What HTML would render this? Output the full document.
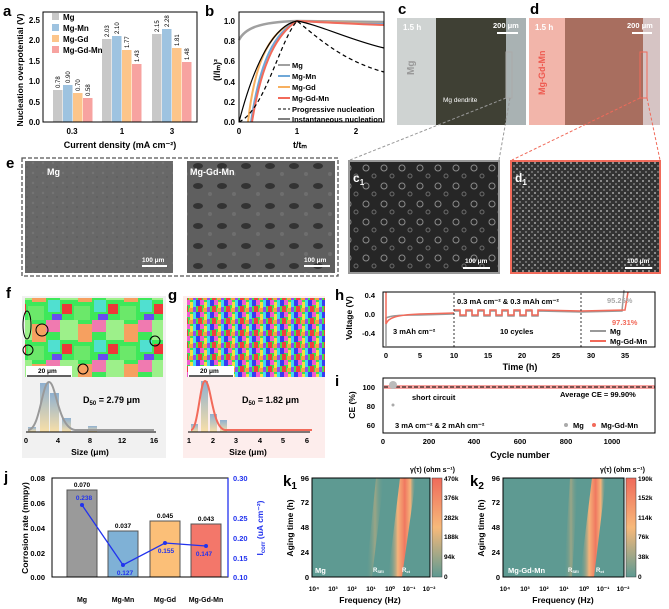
<!DOCTYPE html><html><head><meta charset="utf-8"><style>
body{margin:0;background:#fff}svg{display:block;font-family:"Liberation Sans",Arial,sans-serif}
</style></head><body>
<svg width="669" height="609" viewBox="0 0 669 609" xmlns="http://www.w3.org/2000/svg">
<defs>
<linearGradient id="hb" x1="0" y1="0" x2="0" y2="1"><stop offset="0" stop-color="#8fb0d0"/><stop offset="1" stop-color="#f8dfa8"/></linearGradient>
<linearGradient id="cb1" x1="0" y1="1" x2="0" y2="0"><stop offset="0" stop-color="#5e9a92"/><stop offset=".5" stop-color="#f7b97a"/><stop offset="1" stop-color="#ef6a5a"/></linearGradient>
<linearGradient id="ridge" x1="0" y1="0" x2="1" y2="0"><stop offset="0" stop-color="#5e9a92" stop-opacity="0"/><stop offset=".35" stop-color="#f5b37a"/><stop offset=".6" stop-color="#f07860"/><stop offset=".8" stop-color="#f5b37a"/><stop offset="1" stop-color="#5e9a92" stop-opacity="0"/></linearGradient>
<linearGradient id="sei" x1="0" y1="0" x2="1" y2="0"><stop offset="0" stop-color="#5e9a92" stop-opacity="0"/><stop offset=".5" stop-color="#9aa586"/><stop offset="1" stop-color="#5e9a92" stop-opacity="0"/></linearGradient>
<pattern id="ebsd1" width="46" height="40" patternUnits="userSpaceOnUse"><rect width="46" height="40" fill="#3ee85a"/><rect x="0" y="0" width="14" height="12" fill="#f07ab0"/><rect x="14" y="0" width="18" height="20" fill="#9df08a"/><rect x="32" y="4" width="14" height="18" fill="#f6a060"/><rect x="2" y="20" width="12" height="12" fill="#50e0d0"/><rect x="16" y="24" width="10" height="10" fill="#ee3838"/><rect x="28" y="26" width="16" height="14" fill="#6be86a"/><rect x="6" y="34" width="10" height="6" fill="#6a4cf0"/></pattern>
<pattern id="ebsd2" width="14" height="12" patternUnits="userSpaceOnUse"><rect width="14" height="12" fill="#3fe04e"/><rect x="0" y="0" width="4" height="6" fill="#3a3af0"/><rect x="4" y="0" width="4" height="5" fill="#f05ad0"/><rect x="8" y="2" width="3" height="6" fill="#f4e040"/><rect x="11" y="0" width="3" height="7" fill="#40d8f0"/><rect x="2" y="6" width="4" height="6" fill="#f04040"/><rect x="7" y="8" width="4" height="4" fill="#f6a040"/><rect x="11" y="7" width="3" height="5" fill="#8a50f0"/></pattern>
<pattern id="sem1" width="10" height="10" patternUnits="userSpaceOnUse"><rect width="10" height="10" fill="#686868"/><circle cx="3" cy="3" r="1.2" fill="#747474"/><circle cx="7" cy="7" r="1" fill="#5e5e5e"/></pattern>
<pattern id="sem2" width="24" height="20" patternUnits="userSpaceOnUse"><rect width="24" height="20" fill="#5f5f5f"/><ellipse cx="6" cy="6" rx="5" ry="3" fill="#333"/><circle cx="18" cy="14" r="2" fill="#6e6e6e"/></pattern>
<pattern id="semc" width="18" height="18" patternUnits="userSpaceOnUse"><rect width="18" height="18" fill="#262626"/><circle cx="6" cy="6" r="3" fill="none" stroke="#8a8a8a" stroke-width="1"/><circle cx="14" cy="14" r="2" fill="none" stroke="#6a6a6a"/></pattern>
<pattern id="semd" width="6" height="6" patternUnits="userSpaceOnUse"><rect width="6" height="6" fill="#333"/><rect x="0" y="0" width="2" height="2" fill="#8a8a8a"/><rect x="3" y="3" width="2" height="2" fill="#6a6a6a"/></pattern>
</defs>
<g font-weight="bold">
<!-- a -->
<text x="3" y="16" font-size="15">a</text>
<g font-size="8" text-anchor="end"><text x="40" y="125">0.0</text><text x="40" y="105">0.5</text><text x="40" y="84">1.0</text><text x="40" y="64">1.5</text><text x="40" y="43">2.0</text><text x="40" y="23">2.5</text></g>
<text transform="translate(23,70) rotate(-90)" font-size="8.5" text-anchor="middle">Nucleation overpotential (V)</text>
<g>
<rect x="53" y="90" width="9.5" height="32" fill="#c8c8c8"/><rect x="63" y="85" width="9.5" height="37" fill="#9ec3e0"/><rect x="73" y="93" width="9.5" height="29" fill="#fcc58a"/><rect x="83" y="98" width="9.5" height="24" fill="#f7a3a0"/>
<rect x="102" y="39" width="9.5" height="83" fill="#c8c8c8"/><rect x="112" y="36" width="9.5" height="86" fill="#9ec3e0"/><rect x="122" y="50" width="9.5" height="72" fill="#fcc58a"/><rect x="132" y="64" width="9.5" height="58" fill="#f7a3a0"/>
<rect x="152" y="34" width="9.5" height="88" fill="#c8c8c8"/><rect x="162" y="29" width="9.5" height="93" fill="#9ec3e0"/><rect x="172" y="48" width="9.5" height="74" fill="#fcc58a"/><rect x="182" y="62" width="9.5" height="60" fill="#f7a3a0"/>
</g>
<g font-size="6" font-weight="normal">
<text transform="translate(60,88) rotate(-90)">0.78</text><text transform="translate(70,83) rotate(-90)">0.90</text><text transform="translate(80,91) rotate(-90)">0.70</text><text transform="translate(90,96) rotate(-90)">0.58</text>
<text transform="translate(109,37) rotate(-90)">2.03</text><text transform="translate(119,34) rotate(-90)">2.10</text><text transform="translate(129,48) rotate(-90)">1.77</text><text transform="translate(139,62) rotate(-90)">1.43</text>
<text transform="translate(159,32) rotate(-90)">2.15</text><text transform="translate(169,27) rotate(-90)">2.28</text><text transform="translate(179,46) rotate(-90)">1.81</text><text transform="translate(189,60) rotate(-90)">1.48</text></g>
<rect x="43" y="12" width="154" height="110" fill="none" stroke="#000" stroke-width="1"/>
<g font-size="8"><rect x="52" y="13" width="7" height="7" fill="#c8c8c8"/><text x="63" y="20">Mg</text><rect x="52" y="24" width="7" height="7" fill="#9ec3e0"/><text x="63" y="31">Mg-Mn</text><rect x="52" y="35" width="7" height="7" fill="#fcc58a"/><text x="63" y="42">Mg-Gd</text><rect x="52" y="46" width="7" height="7" fill="#f7a3a0"/><text x="63" y="53">Mg-Gd-Mn</text></g>
<g font-size="8" text-anchor="middle"><text x="72" y="134">0.3</text><text x="122" y="134">1</text><text x="172" y="134">3</text></g>
<text x="120" y="148" font-size="9" text-anchor="middle">Current density (mA cm⁻²)</text>
<!-- b -->
<text x="205" y="16" font-size="15">b</text>
<g font-size="8" text-anchor="end"><text x="235" y="125">0.0</text><text x="235" y="105">0.2</text><text x="235" y="85">0.4</text><text x="235" y="64">0.6</text><text x="235" y="44">0.8</text><text x="235" y="24">1.0</text></g>
<text transform="translate(220,70) rotate(-90)" font-size="9" text-anchor="middle">(I/Iₘ)²</text>
<g fill="none" stroke-width="2">
<path d="M239,40 C245,28 260,22 297,21 L384,22" stroke="#a0a0a0" stroke-width="2.5"/>
<path d="M248,122 C255,60 270,30 297,21 C320,22 350,23 384,24" stroke="#f7b060"/>
<path d="M251,122 C260,60 275,32 297,21 C320,22 350,24 384,24" stroke="#6fa8d8"/>
<path d="M252,122 C262,60 278,33 297,21 C320,22 350,24 384,25" stroke="#f26a5a"/>
</g>
<path d="M239,122 C255,60 275,25 297,21 C320,25 350,40 384,48" fill="none" stroke="#000" stroke-width="1.2"/>
<path d="M239,122 C265,110 280,40 297,21 C315,35 340,60 384,72" fill="none" stroke="#000" stroke-width="1.2" stroke-dasharray="4,3"/>
<rect x="239" y="12" width="145" height="110" fill="none" stroke="#000"/>
<g font-size="7.5"><line x1="278" y1="65" x2="290" y2="65" stroke="#a0a0a0" stroke-width="2"/><text x="292" y="68">Mg</text>
<line x1="278" y1="76" x2="290" y2="76" stroke="#6fa8d8" stroke-width="2"/><text x="292" y="79">Mg-Mn</text>
<line x1="278" y1="87" x2="290" y2="87" stroke="#f7b060" stroke-width="2"/><text x="292" y="90">Mg-Gd</text>
<line x1="278" y1="98" x2="290" y2="98" stroke="#f26a5a" stroke-width="2"/><text x="292" y="101">Mg-Gd-Mn</text>
<line x1="278" y1="109" x2="290" y2="109" stroke="#000" stroke-dasharray="3,2"/><text x="292" y="112">Progressive nucleation</text>
<line x1="278" y1="119" x2="290" y2="119" stroke="#000"/><text x="292" y="122">Instantaneous nucleation</text></g>
<g font-size="8" text-anchor="middle"><text x="239" y="134">0</text><text x="297" y="134">1</text><text x="356" y="134">2</text></g>
<text x="300" y="148" font-size="9" text-anchor="middle">t/tₘ</text>
<!-- c d -->
<text x="398" y="14" font-size="15">c</text><text x="530" y="14" font-size="15">d</text>
<rect x="397" y="18" width="129" height="107" fill="#cfd3d2"/><rect x="436" y="18" width="70" height="107" fill="#3f4034"/><rect x="506" y="18" width="20" height="107" fill="#a9b2b3"/>
<rect x="529" y="18" width="131" height="107" fill="#f2b5aa"/><rect x="565" y="18" width="78" height="107" fill="#a86e5f"/><rect x="643" y="18" width="17" height="107" fill="#d6c4c4"/>
<g fill="#fff" font-size="8"><text x="403" y="30">1.5 h</text><text x="493" y="28" font-size="7.5">200 μm</text><line x1="497" y1="33" x2="518" y2="33" stroke="#fff" stroke-width="2"/>
<text x="535" y="30">1.5 h</text><text x="627" y="28" font-size="7.5">200 μm</text><line x1="632" y1="33" x2="652" y2="33" stroke="#fff" stroke-width="2"/>
<text x="443" y="102" font-size="6.5" font-weight="normal">Mg dendrite</text></g>
<text transform="translate(414,75) rotate(-90)" font-size="10" fill="#999">Mg</text>
<text transform="translate(545,95) rotate(-90)" font-size="9" fill="#ee5a50">Mg-Gd-Mn</text>
<rect x="506" y="52" width="6" height="46" fill="none" stroke="#aaa"/><rect x="640" y="52" width="7" height="46" fill="none" stroke="#f06a5a"/>
<g stroke-dasharray="3,2" fill="none"><line x1="506" y1="98" x2="350" y2="160" stroke="#999"/><line x1="510" y1="98" x2="499" y2="160" stroke="#999"/><line x1="640" y1="98" x2="512" y2="160" stroke="#f06a5a"/><line x1="647" y1="98" x2="660" y2="160" stroke="#f06a5a"/></g>
<!-- e -->
<text x="6" y="168" font-size="15">e</text>
<rect x="22" y="158" width="316" height="118" fill="none" stroke="#555" stroke-dasharray="4,2" stroke-width="1.3"/>
<rect x="25" y="161" width="148" height="112" fill="url(#sem1)"/><rect x="187" y="161" width="148" height="112" fill="url(#sem2)"/>
<g fill="#fff" font-size="9"><text x="47" y="175">Mg</text><text x="190" y="175">Mg-Gd-Mn</text><text x="142" y="262" font-size="6.5">100 μm</text><text x="304" y="262" font-size="6.5">100 μm</text></g>
<line x1="142" y1="266" x2="167" y2="266" stroke="#fff" stroke-width="2"/><line x1="304" y1="266" x2="330" y2="266" stroke="#fff" stroke-width="2"/>
<!-- c' d' -->
<rect x="349" y="161" width="150" height="112" fill="url(#semc)" stroke="#999" stroke-width="2"/>
<rect x="511" y="161" width="149" height="112" fill="url(#semd)" stroke="#f06a5a" stroke-width="2"/>
<text x="353" y="182" font-size="12" fill="#fff">c<tspan font-size="8" dy="3">1</tspan></text><text x="515" y="182" font-size="12" fill="#fff">d<tspan font-size="8" dy="3">1</tspan></text>
<g fill="#fff" font-size="6.5"><text x="465" y="263">100 μm</text><text x="627" y="263">100 μm</text></g>
<line x1="463" y1="268" x2="490" y2="268" stroke="#fff" stroke-width="2"/><line x1="625" y1="268" x2="652" y2="268" stroke="#fff" stroke-width="2"/>
<!-- f g -->
<text x="6" y="298" font-size="15">f</text><text x="168" y="300" font-size="15">g</text>
<rect x="22" y="296" width="144" height="162" fill="#f1f1f1"/><rect x="183" y="296" width="142" height="162" fill="#fdedec"/>
<rect x="25" y="298" width="138" height="79" fill="url(#ebsd1)"/><rect x="187" y="298" width="138" height="79" fill="url(#ebsd2)"/>
<rect x="26" y="366" width="46" height="11" fill="#fff"/><line x1="27" y1="376" x2="71" y2="376" stroke="#000" stroke-width="1.3"/><text x="38" y="373" font-size="6.5">20 μm</text>
<rect x="188" y="366" width="46" height="11" fill="#fff"/><line x1="189" y1="376" x2="233" y2="376" stroke="#000" stroke-width="1.3"/><text x="200" y="373" font-size="6.5">20 μm</text>
<g fill="none" stroke="#000"><ellipse cx="27" cy="325" rx="4" ry="14"/><circle cx="42" cy="330" r="6"/><circle cx="28" cy="350" r="5"/><circle cx="155" cy="341" r="5"/><circle cx="83" cy="369" r="5"/></g>
<g fill="url(#hb)"><rect x="28" y="427" width="8" height="5"/><rect x="40" y="383" width="9" height="49"/><rect x="50" y="393" width="9" height="39"/><rect x="62" y="418" width="9" height="14"/><rect x="88" y="426" width="9" height="6"/>
<rect x="191" y="424" width="7" height="8"/><rect x="201" y="381" width="7" height="51"/><rect x="210" y="414" width="7" height="18"/><rect x="220" y="420" width="7" height="12"/></g>
<path d="M28,430 C40,430 42,382 49,382 C56,382 58,428 75,430 L154,430" fill="none" stroke="#999" stroke-width="2"/>
<path d="M191,430 C198,430 200,381 205,381 C211,381 212,428 225,430 L312,430" fill="none" stroke="#f26a5a" stroke-width="2"/>
<line x1="26" y1="432" x2="156" y2="432" stroke="#000"/><line x1="188" y1="432" x2="310" y2="432" stroke="#000"/>
<g font-size="7.5" text-anchor="middle"><text x="26" y="443">0</text><text x="58" y="443">4</text><text x="90" y="443">8</text><text x="122" y="443">12</text><text x="154" y="443">16</text>
<text x="189" y="443">1</text><text x="213" y="443">2</text><text x="236" y="443">3</text><text x="260" y="443">4</text><text x="283" y="443">5</text><text x="307" y="443">6</text>
<text x="90" y="455" font-size="8.5">Size (μm)</text><text x="248" y="455" font-size="8.5">Size (μm)</text></g>
<text x="83" y="403" font-size="9">D<tspan font-size="6" dy="2">50</tspan><tspan dy="-2"> = 2.79 μm</tspan></text>
<text x="242" y="403" font-size="9">D<tspan font-size="6" dy="2">50</tspan><tspan dy="-2"> = 1.82 μm</tspan></text>
<!-- h -->
<text x="335" y="300" font-size="15">h</text>
<g font-size="7.5" text-anchor="end"><text x="375" y="298">0.4</text><text x="375" y="317">0.0</text><text x="375" y="336">-0.4</text></g>
<text transform="translate(352,318) rotate(-90)" font-size="8.5" text-anchor="middle">Voltage (V)</text>
<path d="M386,346 L386,318 C390,316 395,315 420,315 L454,314 M454,311 L460,311 L460,316 L466,316 L466,311 L472,311 L472,316 L478,316 L478,311 L484,311 L484,316 L490,316 L490,311 L496,311 L496,316 L502,316 L502,311 L508,311 L508,316 L514,316 L514,311 L520,311 L520,316 L526,316 L526,311 L532,311 L532,316 L538,316 L538,311 L581,312 L622,311 L624,290" fill="none" stroke="#999" stroke-width="1.5"/>
<path d="M386,292 L386,324 C388,318 395,315 420,314 L454,313 M454,310 L460,310 L460,315 L466,315 L466,310 L472,310 L472,315 L478,315 L478,310 L484,310 L484,315 L490,315 L490,310 L496,310 L496,315 L502,315 L502,310 L508,310 L508,315 L514,315 L514,310 L520,310 L520,315 L526,315 L526,310 L532,310 L532,315 L538,315 L538,310 L581,311 L625,310 L628,292" fill="none" stroke="#f26a5a" stroke-width="1.5"/>
<line x1="454" y1="293" x2="454" y2="347" stroke="#333" stroke-dasharray="2,2"/><line x1="581" y1="293" x2="581" y2="347" stroke="#333" stroke-dasharray="2,2"/>
<rect x="383" y="292" width="272" height="55" fill="none" stroke="#000"/>
<g font-size="7.5"><text x="393" y="334">3 mAh cm⁻²</text><text x="457" y="304">0.3 mA cm⁻² &amp; 0.3 mAh cm⁻²</text><text x="500" y="334">10 cycles</text>
<text x="607" y="303" fill="#aaa">95.26%</text><text x="612" y="325" fill="#f26a5a">97.31%</text>
<line x1="590" y1="331" x2="606" y2="331" stroke="#999" stroke-width="2"/><text x="610" y="334">Mg</text>
<line x1="590" y1="341" x2="606" y2="341" stroke="#f26a5a" stroke-width="2"/><text x="610" y="344">Mg-Gd-Mn</text></g>
<g font-size="7.5" text-anchor="middle"><text x="386" y="358">0</text><text x="420" y="358">5</text><text x="454" y="358">10</text><text x="488" y="358">15</text><text x="522" y="358">20</text><text x="556" y="358">25</text><text x="591" y="358">30</text><text x="625" y="358">35</text>
<text x="520" y="370" font-size="9">Time (h)</text></g>
<!-- i -->
<text x="335" y="386" font-size="15">i</text>
<g font-size="7.5" text-anchor="end"><text x="375" y="390">100</text><text x="375" y="409">80</text><text x="375" y="428">60</text></g>
<text transform="translate(355,405) rotate(-90)" font-size="8.5" text-anchor="middle">CE (%)</text>
<line x1="384" y1="387" x2="655" y2="387" stroke="#f7a3a0" stroke-width="4"/>
<line x1="384" y1="387" x2="655" y2="387" stroke="#000" stroke-dasharray="4,2" stroke-width="1"/>
<circle cx="393" cy="385" r="4" fill="#bbb"/><circle cx="393" cy="405" r="1.5" fill="#aaa"/>
<rect x="383" y="378" width="272" height="55" fill="none" stroke="#000"/>
<g font-size="7.5"><text x="412" y="400">short circuit</text><text x="560" y="397">Average CE = 99.90%</text><text x="395" y="428">3 mA cm⁻² &amp; 2 mAh cm⁻²</text>
<circle cx="566" cy="425" r="2" fill="#aaa"/><text x="573" y="428">Mg</text><circle cx="594" cy="425" r="2" fill="#f26a5a"/><text x="601" y="428">Mg-Gd-Mn</text></g>
<g font-size="7.5" text-anchor="middle"><text x="383" y="444">0</text><text x="429" y="444">200</text><text x="474" y="444">400</text><text x="520" y="444">600</text><text x="566" y="444">800</text><text x="612" y="444">1000</text>
<text x="520" y="458" font-size="9">Cycle number</text></g>
<!-- j -->
<text x="4" y="482" font-size="15">j</text>
<g font-size="7.5" text-anchor="end"><text x="45" y="580">0.00</text><text x="45" y="556">0.02</text><text x="45" y="531">0.04</text><text x="45" y="506">0.06</text><text x="45" y="481">0.08</text></g>
<text transform="translate(28,528) rotate(-90)" font-size="8.5" text-anchor="middle">Corrosion rate (mmpy)</text>
<rect x="67" y="490" width="30" height="87" fill="#9a9a9a" stroke="#555"/><rect x="108" y="531" width="30" height="46" fill="#7fb1d6" stroke="#555"/><rect x="150" y="521" width="30" height="56" fill="#fbbf78" stroke="#555"/><rect x="191" y="524" width="30" height="53" fill="#f3776a" stroke="#555"/>
<g font-size="6.5" text-anchor="middle"><text x="82" y="487">0.070</text><text x="123" y="528">0.037</text><text x="165" y="518">0.045</text><text x="206" y="521">0.043</text></g>
<polyline points="82,505 123,565 165,543 206,546" fill="none" stroke="#2233ee" stroke-width="1.3"/>
<g fill="#2233ee"><circle cx="82" cy="505" r="2"/><circle cx="123" cy="565" r="2"/><circle cx="165" cy="543" r="2"/><circle cx="206" cy="546" r="2"/></g>
<g font-size="6.5" text-anchor="middle" fill="#2233ee"><text x="84" y="500">0.238</text><text x="125" y="575">0.127</text><text x="166" y="553">0.155</text><text x="204" y="556">0.147</text></g>
<rect x="52" y="478" width="176" height="99" fill="none" stroke="#000"/>
<line x1="228" y1="478" x2="228" y2="577" stroke="#2233ee" stroke-width="1.3"/>
<g font-size="7.5" fill="#2233ee"><text x="233" y="580">0.10</text><text x="233" y="561">0.15</text><text x="233" y="541">0.20</text><text x="233" y="521">0.25</text><text x="233" y="481">0.30</text></g>
<text transform="translate(263,528) rotate(-90)" font-size="8.5" fill="#2233ee" text-anchor="middle">I<tspan font-size="6" dy="2">corr</tspan><tspan dy="-2"> (uA cm⁻²)</tspan></text>
<g font-size="7" text-anchor="middle"><text x="82" y="602">Mg</text><text x="123" y="602">Mg-Mn</text><text x="165" y="602">Mg-Gd</text><text x="206" y="602">Mg-Gd-Mn</text></g>
<!-- k1 -->
<text x="283" y="486" font-size="15">k<tspan font-size="10" dy="3">1</tspan></text>
<rect x="312" y="478" width="118" height="99" fill="#5e9a92"/>
<path d="M376,478 L384,478 L372,577 L366,577 Z" fill="url(#sei)"/>
<path d="M400,478 L416,478 L402,577 L388,577 Z" fill="url(#ridge)"/>
<rect x="312" y="478" width="118" height="99" fill="none" stroke="#000"/>
<rect x="432" y="478" width="10" height="99" fill="url(#cb1)" stroke="#333" stroke-width=".5"/>
<g font-size="6.5"><text x="444" y="481">470k</text><text x="444" y="500">376k</text><text x="444" y="520">282k</text><text x="444" y="539">188k</text><text x="444" y="559">94k</text><text x="444" y="579">0</text></g>
<text x="410" y="472" font-size="7">γ(τ) (ohm s⁻¹)</text>
<g font-size="7.5" text-anchor="end"><text x="309" y="481">96</text><text x="309" y="505">72</text><text x="309" y="530">48</text><text x="309" y="555">24</text><text x="309" y="580">0</text></g>
<text transform="translate(293,528) rotate(-90)" font-size="8.5" text-anchor="middle">Aging time (h)</text>
<g fill="#fff" font-size="7.5"><text x="315" y="573">Mg</text><text x="373" y="572" font-size="6">R<tspan font-size="4" dy="1">SEI</tspan></text><text x="402" y="572" font-size="6">R<tspan font-size="4" dy="1">ct</tspan></text></g>
<g font-size="6.5" text-anchor="middle"><text x="314" y="591">10⁴</text><text x="333" y="591">10³</text><text x="352" y="591">10²</text><text x="371" y="591">10¹</text><text x="390" y="591">10⁰</text><text x="409" y="591">10⁻¹</text><text x="429" y="591">10⁻²</text>
<text x="370" y="603" font-size="8.5">Frequency (Hz)</text></g>
<!-- k2 -->
<text x="470" y="486" font-size="15">k<tspan font-size="10" dy="3">2</tspan></text>
<rect x="503" y="478" width="121" height="99" fill="#5e9a92"/>
<path d="M570,478 L578,478 L572,577 L564,577 Z" fill="url(#sei)"/>
<path d="M592,478 L606,478 L594,577 L580,577 Z" fill="url(#ridge)"/>
<rect x="503" y="478" width="121" height="99" fill="none" stroke="#000"/>
<rect x="626" y="478" width="10" height="99" fill="url(#cb1)" stroke="#333" stroke-width=".5"/>
<g font-size="6.5"><text x="638" y="481">190k</text><text x="638" y="500">152k</text><text x="638" y="520">114k</text><text x="638" y="539">76k</text><text x="638" y="559">38k</text><text x="638" y="579">0</text></g>
<text x="600" y="472" font-size="7">γ(τ) (ohm s⁻¹)</text>
<g font-size="7.5" text-anchor="end"><text x="500" y="481">96</text><text x="500" y="505">72</text><text x="500" y="530">48</text><text x="500" y="555">24</text><text x="500" y="580">0</text></g>
<text transform="translate(484,528) rotate(-90)" font-size="8.5" text-anchor="middle">Aging time (h)</text>
<g fill="#fff" font-size="7.5"><text x="508" y="573">Mg-Gd-Mn</text><text x="568" y="572" font-size="6">R<tspan font-size="4" dy="1">SEI</tspan></text><text x="596" y="572" font-size="6">R<tspan font-size="4" dy="1">ct</tspan></text></g>
<g font-size="6.5" text-anchor="middle"><text x="505" y="591">10⁴</text><text x="525" y="591">10³</text><text x="544" y="591">10²</text><text x="564" y="591">10¹</text><text x="584" y="591">10⁰</text><text x="603" y="591">10⁻¹</text><text x="623" y="591">10⁻²</text>
<text x="563" y="603" font-size="8.5">Frequency (Hz)</text></g>
</g>
</svg>
</body></html>
